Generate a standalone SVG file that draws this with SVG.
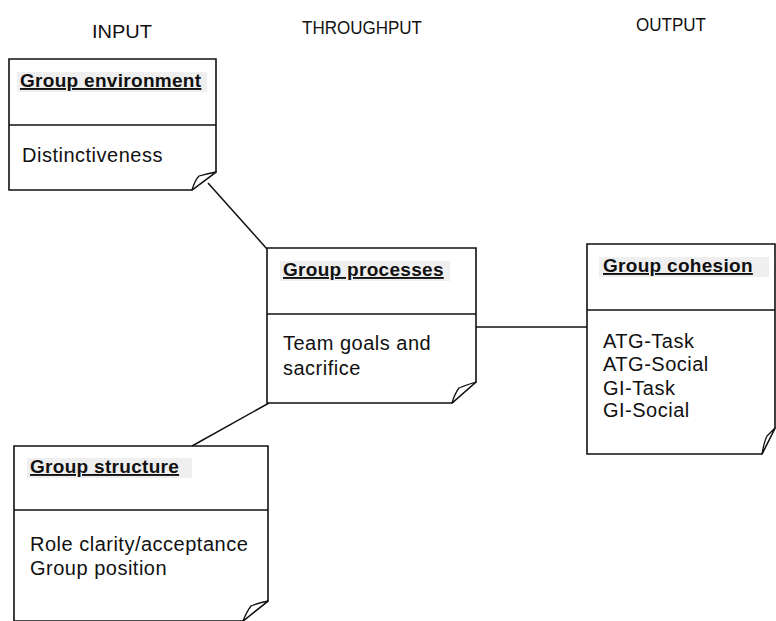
<svg xmlns="http://www.w3.org/2000/svg" width="776" height="621" viewBox="0 0 776 621">
<style>
.box{fill:#fff;stroke:#111;stroke-width:1.6}
.div{stroke:#111;stroke-width:1.4}
.ear{fill:#fff;stroke:#111;stroke-width:1.3;stroke-linejoin:round}
.hl{fill:#efefef}
.hdr{font-family:"Liberation Sans",Arial,sans-serif;font-weight:bold;font-size:19px;letter-spacing:0.3px;fill:#111;text-decoration:underline}
.body{font-family:"Liberation Sans",Arial,sans-serif;font-size:20px;letter-spacing:0.5px;fill:#111}
.col{font-family:"Liberation Sans",Arial,sans-serif;font-size:19px;fill:#111}
.conn{stroke:#111;stroke-width:1.5;fill:none}
</style>
<rect width="776" height="621" fill="#fff"/>
<g id="columns">
<text class="col" x="92" y="38" textLength="60" lengthAdjust="spacingAndGlyphs">INPUT</text>
<text class="col" x="302" y="34" textLength="120" lengthAdjust="spacingAndGlyphs">THROUGHPUT</text>
<text class="col" x="636" y="31" textLength="70" lengthAdjust="spacingAndGlyphs">OUTPUT</text>
</g>
<g id="connectors">
<line class="conn" x1="208" y1="183" x2="267" y2="249"/>
<line class="conn" x1="476" y1="327" x2="587" y2="327"/>
<line class="conn" x1="269" y1="403" x2="192" y2="446"/>
</g>
<g id="group-environment">
<path class="box" d="M9,59 H216 V172 L192,190 H9 Z"/>
<line class="div" x1="9" y1="125" x2="216" y2="125"/>
<path class="ear" d="M192,190 Q195,180 199,176 Q206,174 216,172 Z"/>
<rect class="hl" x="17" y="72" width="190" height="20"/>
<text class="hdr" x="20" y="87">Group environment</text>
<text class="body" x="22" y="162">Distinctiveness</text>
</g>
<g id="group-processes">
<path class="box" d="M267,248 H476 V382 L452,403 H267 Z"/>
<line class="div" x1="267" y1="314" x2="476" y2="314"/>
<path class="ear" d="M452,403 Q455,393 459,388 Q466,385 476,382 Z"/>
<rect class="hl" x="280" y="261" width="170" height="20"/>
<text class="hdr" x="283" y="276">Group processes</text>
<text class="body" x="283" y="350">Team goals and</text>
<text class="body" x="283" y="375">sacrifice</text>
</g>
<g id="group-cohesion">
<path class="box" d="M587,244 H775 V428 L762,454 H587 Z"/>
<line class="div" x1="587" y1="310" x2="775" y2="310"/>
<path class="ear" d="M762,454 Q764,442 767,436 Q771,432 775,428 Z"/>
<rect class="hl" x="599" y="257" width="170" height="20"/>
<text class="hdr" x="603" y="272">Group cohesion</text>
<text class="body" x="603" y="348">ATG-Task</text>
<text class="body" x="603" y="371">ATG-Social</text>
<text class="body" x="603" y="395">GI-Task</text>
<text class="body" x="603" y="417">GI-Social</text>
</g>
<g id="group-structure">
<path class="box" d="M14,446 H268 V601 L243,621 H14 Z"/>
<line class="div" x1="14" y1="510" x2="268" y2="510"/>
<path class="ear" d="M243,621 Q247,611 251,606 Q258,603 268,601 Z"/>
<rect class="hl" x="27" y="458" width="165" height="20"/>
<text class="hdr" x="30" y="473">Group structure</text>
<text class="body" x="30" y="551">Role clarity/acceptance</text>
<text class="body" x="30" y="575">Group position</text>
</g>
</svg>
